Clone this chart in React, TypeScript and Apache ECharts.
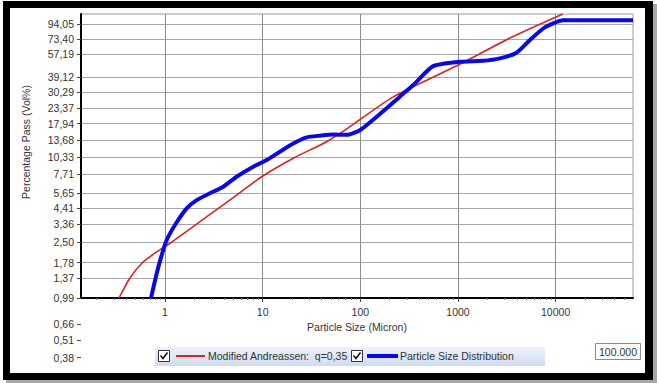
import React, { useEffect, useRef } from "react";
import * as echarts from "echarts";

// Axis ranges (log scales)
const xMin = 0.138;
const xMax = 62000;
const yMin = 0.99;
const yMax = 111;

// Tick labels
const xTickValues = [1, 10, 100, 1000, 10000];
const xMinorTicks = [
  0.2, 0.3, 0.4, 0.5, 0.6, 0.7, 0.8, 0.9,
  2, 3, 4, 5, 6, 7, 8, 9,
  20, 30, 40, 50, 60, 70, 80, 90,
  200, 300, 400, 500, 600, 700, 800, 900,
  2000, 3000, 4000, 5000, 6000, 7000, 8000, 9000,
  20000, 30000, 40000, 50000,
];
const yTickValues = [
  0.99, 1.37, 1.78, 2.5, 3.36, 4.41, 5.65, 7.71, 10.33, 13.68, 17.94,
  23.37, 30.29, 39.12, 57.19, 73.4, 94.05,
];
const yLowerTickValues = [0.66, 0.51, 0.38];

// Series: Modified Andreassen q=0,35 (size in micron, % passing)
const andreassenSize = [0.338, 0.438, 0.582, 0.79, 1.125, 2.28, 5.42, 9.77, 20.6, 45.2, 69.5, 216, 1045, 3400, 11850];
const andreassenPass = [0.99, 1.38, 1.77, 2.09, 2.46, 3.52, 5.48, 7.43, 10.1, 13.3, 16.1, 27.9, 48.1, 74.4, 111];

// Series: Particle Size Distribution
const psdSize = [
  0.719, 0.822, 0.925, 1.04, 1.266, 1.667, 2.11, 2.89, 3.95, 5.42, 8.01, 11.0,
  15.0, 20.6, 28.2, 38.6, 52.8, 72.4, 99, 147, 254, 348, 557, 1045, 1810,
  2685, 3980, 5450, 7750, 11940, 62000,
];
const psdPass = [
  0.99, 1.49, 2.02, 2.59, 3.33, 4.39, 5.04, 5.64, 6.29, 7.43, 8.77, 9.8,
  11.25, 12.9, 14.3, 14.7, 15.0, 14.9, 16.1, 20.1, 28.1, 34.1, 46.7, 50.2, 51.0,
  53.1, 58.3, 72.0, 88.9, 100, 100,
];

const RED = "#dc2323";
const BLUE = "#0a0ae0";
const FONT = "Liberation Sans, Arial, sans-serif";
const TXT = "#333333";

const fmtComma = (v: number) => v.toFixed(2).replace(".", ",");

export default function App() {
  const ref = useRef<HTMLDivElement>(null);
  useEffect(() => {
    if (!ref.current) return;
    const chart = echarts.init(ref.current, undefined, { renderer: "svg" });
    const red = andreassenSize.map((x, i) => [x, andreassenPass[i]]);
    const blue = psdSize.map((x, i) => [x, psdPass[i]]);
    const gridL = 81;
    const gridT = 14;
    const gridW = 552;
    const gridH = 284;
    const pxPerDecadeY = gridH / Math.log10(yMax / yMin);
    const lowerMin = 0.35;
    const lowerH = Math.log10(yMin / lowerMin) * pxPerDecadeY;

    chart.setOption({
      animation: false,
      backgroundColor: "#ffffff",
      textStyle: { fontFamily: FONT },
      grid: [
        {
          left: gridL, top: gridT, width: gridW, height: gridH,
          show: true, backgroundColor: "#ffffff", borderColor: "#9a9a9a", borderWidth: 1,
          outerBoundsMode: "none", containLabel: false,
        },
        {
          left: gridL, top: gridT + gridH + 2, width: gridW, height: lowerH,
          show: false, outerBoundsMode: "none", containLabel: false,
        },
      ],
      xAxis: [
        {
          type: "log", logBase: 10, gridIndex: 0, min: xMin, max: xMax, position: "bottom",
          axisLine: { show: true, lineStyle: { color: "#000", width: 2 } },
          axisTick: { show: true, customValues: xTickValues, length: 4, lineStyle: { color: "#444" } },
          axisLabel: {
            show: true, customValues: xTickValues, formatter: (v: number) => String(v),
            fontSize: 10.5, color: TXT, margin: 8, fontFamily: FONT,
          },
          splitLine: { show: true, lineStyle: { color: "#8c8c8c", width: 1 } },
          minorTick: { show: false },
          name: "Particle Size (Micron)", nameLocation: "middle", nameGap: 22,
          nameTextStyle: { fontSize: 10.5, color: TXT, fontFamily: FONT },
        },
        {
          type: "log", logBase: 10, gridIndex: 0, min: xMin, max: xMax, position: "bottom", offset: 0,
          axisLine: { show: false },
          axisTick: { show: true, customValues: xMinorTicks, length: 2, lineStyle: { color: "#777" } },
          axisLabel: { show: false },
          splitLine: { show: false },
        },
        {
          type: "value", gridIndex: 1, show: false, min: 0, max: 1,
        },
      ],
      yAxis: [
        {
          type: "log", logBase: 10, gridIndex: 0, min: yMin, max: yMax,
          axisLine: { show: true, lineStyle: { color: "#000", width: 2 } },
          axisTick: { show: true, customValues: yTickValues, length: 4, lineStyle: { color: "#444" } },
          axisLabel: {
            show: true, customValues: yTickValues, formatter: fmtComma,
            fontSize: 10.5, color: TXT, margin: 7, fontFamily: FONT,
          },
          splitLine: { show: true, lineStyle: { color: "#a6a6a6", width: 1 } },
        },
        {
          type: "log", logBase: 10, gridIndex: 1, min: lowerMin, max: yMin,
          axisLine: { show: false },
          axisTick: { show: true, customValues: yLowerTickValues, length: 4, lineStyle: { color: "#444" } },
          axisLabel: {
            show: true, customValues: yLowerTickValues, formatter: fmtComma,
            fontSize: 10.5, color: TXT, margin: 7, fontFamily: FONT,
          },
          splitLine: { show: false },
        },
      ],
      series: [
        {
          name: "Modified Andreassen:  q=0,35", type: "line", xAxisIndex: 0, yAxisIndex: 0,
          data: red, smooth: 0.25, symbol: "none", showSymbol: false,
          lineStyle: { color: RED, width: 1.6 }, itemStyle: { color: RED }, z: 3,
        },
        {
          name: "Particle Size Distribution", type: "line", xAxisIndex: 0, yAxisIndex: 0,
          data: blue, smooth: 0.2, symbol: "none", showSymbol: false,
          lineStyle: { color: BLUE, width: 4 }, itemStyle: { color: BLUE }, z: 4,
        },
      ],
      graphic: [
        // frame with shadow
        { type: "rect", z: -20, silent: true, shape: { x: 6, y: 4, width: 651, height: 379 }, style: { fill: "#a8a8a8" } },
        { type: "rect", z: -19, silent: true, shape: { x: 3, y: 1, width: 650, height: 379 }, style: { fill: "#000000" } },
        { type: "rect", z: -18, silent: true, shape: { x: 10, y: 8, width: 635, height: 365 }, style: { fill: "#ffffff" } },
        // y axis title
        {
          type: "text", z: 10, x: 26, y: 142, rotation: Math.PI / 2,
          style: { text: "Percentage Pass (Vol%)", fontSize: 10.5, fill: TXT, fontFamily: FONT, align: "center", verticalAlign: "middle" },
        },
        // legend box
        {
          type: "rect", z: 10, shape: { x: 155, y: 347, width: 390, height: 19 },
          style: {
            fill: new echarts.graphic.LinearGradient(0, 0, 0, 1, [
              { offset: 0, color: "#eef3fb" },
              { offset: 1, color: "#cfdcef" },
            ]),
          },
        },
        { type: "rect", z: 11, shape: { x: 158.5, y: 350.5, width: 11, height: 11 }, style: { fill: "#fff", stroke: "#333", lineWidth: 1 } },
        { type: "polyline", z: 12, shape: { points: [[160.5, 355.5], [163, 358.5], [167.5, 352.5]] }, style: { fill: "none", stroke: "#111", lineWidth: 1.6 } },
        { type: "line", z: 11, shape: { x1: 176, y1: 356, x2: 205, y2: 356 }, style: { stroke: RED, lineWidth: 2 } },
        {
          type: "text", z: 11, x: 208, y: 356,
          style: { text: "Modified Andreassen:  q=0,35", fontSize: 10.5, fill: TXT, fontFamily: FONT, verticalAlign: "middle" },
        },
        { type: "rect", z: 11, shape: { x: 351.5, y: 350.5, width: 11, height: 11 }, style: { fill: "#fff", stroke: "#333", lineWidth: 1 } },
        { type: "polyline", z: 12, shape: { points: [[353.5, 355.5], [356, 358.5], [360.5, 352.5]] }, style: { fill: "none", stroke: "#111", lineWidth: 1.6 } },
        { type: "line", z: 11, shape: { x1: 367, y1: 356, x2: 398, y2: 356 }, style: { stroke: BLUE, lineWidth: 4 } },
        {
          type: "text", z: 11, x: 400, y: 356,
          style: { text: "Particle Size Distribution", fontSize: 10.5, fill: TXT, fontFamily: FONT, verticalAlign: "middle" },
        },
        // value box
        { type: "rect", z: 10, shape: { x: 595.5, y: 343.5, width: 45, height: 16 }, style: { fill: "#fff", stroke: "#8a8a8a", lineWidth: 1 } },
        {
          type: "text", z: 11, x: 637, y: 352,
          style: { text: "100.000", fontSize: 10.5, fill: TXT, fontFamily: FONT, align: "right", verticalAlign: "middle" },
        },
      ],
    });
    return () => chart.dispose();
  }, []);
  return (
    <div
      ref={ref}
      style={{ position: "absolute", left: 0, top: 0, width: 657, height: 383 }}
    />
  );
}
